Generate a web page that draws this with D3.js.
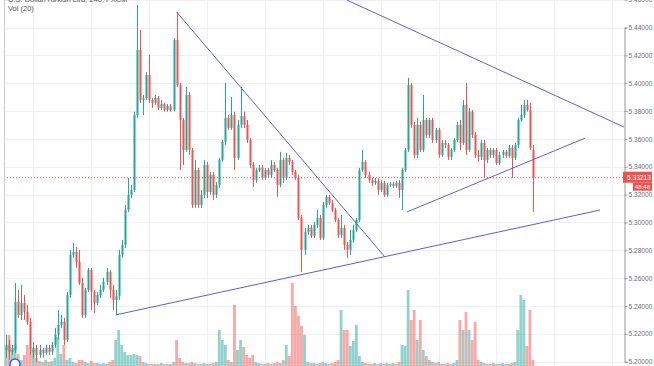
<!DOCTYPE html>
<html>
<head>
<meta charset="utf-8">
<script src="https://cdn.jsdelivr.net/npm/d3@7"></script>
<style>
  body { margin: 0; background: #fff; }
  svg { display: block; font-family: "Liberation Sans", Arial, sans-serif; }
</style>
</head>
<body>
<svg id="chart" width="654" height="366"></svg>
<script>
// candle data (price units)
let opens = [
  5.2085,5.2121,5.2071,5.2085,5.2430,5.2336,5.2422,5.2358,5.2286,5.2071,
  5.2099,5.2049,5.2085,5.2063,5.2099,5.2071,5.2121,5.2193,5.2265,5.2286,
  5.2157,5.2480,5.2767,5.2789,5.2717,5.2566,5.2336,5.2516,5.2659,5.2501,
  5.2422,5.2480,5.2516,5.2573,5.2645,5.2516,5.2444,5.2473,5.2767,5.2839,
  5.3090,5.3198,5.3234,5.3772,5.4239,5.3880,5.3894,5.4060,5.3880,5.3859,
  5.3894,5.3823,5.3851,5.3808,5.3837,5.3808,5.4311,5.3988,5.3736,5.3521,
  5.3916,5.3521,5.3126,5.3377,5.3126,5.3198,5.3413,5.3219,5.3342,5.3198,
  5.3270,5.3449,5.3578,5.3751,5.3679,5.3772,5.3464,5.3701,5.3765,5.3701,
  5.3593,5.3413,5.3306,5.3377,5.3392,5.3320,5.3377,5.3342,5.3413,5.3377,
  5.3270,5.3449,5.3320,5.3464,5.3435,5.3363,5.3320,5.3033,5.2803,5.2932,
  5.2961,5.2904,5.2983,5.3033,5.2889,5.3126,5.3184,5.3141,5.3090,5.3018,
  5.2911,5.2961,5.2839,5.2803,5.2875,5.2947,5.3018,5.3377,5.3435,5.3342,
  5.3306,5.3284,5.3298,5.3234,5.3284,5.3198,5.3270,5.3277,5.3263,5.3284,
  5.3234,5.3377,5.3521,5.3988,5.3701,5.3485,5.3701,5.3521,5.3736,5.3629,
  5.3736,5.3593,5.3665,5.3485,5.3571,5.3557,5.3471,5.3521,5.3593,5.3701,
  5.3571,5.3844,5.3521,5.3796,5.3629,5.3485,5.3471,5.3571,5.3449,5.3521,
  5.3485,5.3521,5.3428,5.3485,5.3507,5.3478,5.3535,5.3464,5.3557,5.3736,
  5.3772,5.3844,5.3808,5.3521
];
let closes = [
  5.2121,5.2071,5.2099,5.2430,5.2336,5.2422,5.2358,5.2286,5.2071,5.2099,
  5.2049,5.2085,5.2063,5.2099,5.2071,5.2121,5.2193,5.2265,5.2286,5.2157,
  5.2480,5.2767,5.2789,5.2717,5.2566,5.2336,5.2516,5.2659,5.2501,5.2422,
  5.2480,5.2516,5.2573,5.2645,5.2516,5.2444,5.2473,5.2767,5.2839,5.3090,
  5.3198,5.3234,5.3772,5.4239,5.3880,5.3894,5.4060,5.3880,5.3859,5.3894,
  5.3823,5.3851,5.3808,5.3837,5.3808,5.4311,5.3988,5.3736,5.3521,5.3916,
  5.3521,5.3126,5.3377,5.3126,5.3198,5.3413,5.3219,5.3342,5.3198,5.3270,
  5.3449,5.3578,5.3751,5.3679,5.3772,5.3464,5.3701,5.3765,5.3701,5.3593,
  5.3413,5.3306,5.3377,5.3392,5.3320,5.3377,5.3342,5.3413,5.3377,5.3270,
  5.3449,5.3320,5.3464,5.3435,5.3363,5.3320,5.3033,5.2803,5.2932,5.2961,
  5.2904,5.2983,5.3033,5.2889,5.3126,5.3184,5.3141,5.3090,5.3018,5.2911,
  5.2961,5.2839,5.2803,5.2875,5.2947,5.3018,5.3377,5.3435,5.3342,5.3306,
  5.3284,5.3298,5.3234,5.3284,5.3198,5.3270,5.3277,5.3263,5.3284,5.3234,
  5.3377,5.3521,5.3988,5.3701,5.3485,5.3701,5.3521,5.3736,5.3629,5.3736,
  5.3593,5.3665,5.3485,5.3571,5.3557,5.3471,5.3521,5.3593,5.3701,5.3571,
  5.3844,5.3521,5.3796,5.3629,5.3485,5.3471,5.3571,5.3449,5.3521,5.3485,
  5.3521,5.3428,5.3485,5.3507,5.3478,5.3535,5.3464,5.3557,5.3736,5.3772,
  5.3844,5.3808,5.3535,5.33213
];
let highs = [
  5.2193,5.2157,5.2121,5.2566,5.2516,5.2552,5.2480,5.2408,5.2315,5.2142,
  5.2121,5.2121,5.2099,5.2121,5.2121,5.2142,5.2243,5.2372,5.2336,5.2315,
  5.2501,5.2803,5.2853,5.2825,5.2803,5.2602,5.2530,5.2674,5.2674,5.2516,
  5.2501,5.2552,5.2602,5.2674,5.2659,5.2552,5.2516,5.2803,5.2875,5.3126,
  5.3320,5.3270,5.3796,5.4562,5.4383,5.3916,5.4081,5.4203,5.3894,5.3916,
  5.3909,5.3880,5.3859,5.3851,5.3851,5.4325,5.4512,5.4002,5.3751,5.3973,
  5.3937,5.3535,5.3449,5.3392,5.3234,5.3449,5.3435,5.3363,5.3363,5.3291,
  5.3464,5.3593,5.4002,5.3772,5.3902,5.3796,5.3736,5.3973,5.3796,5.3736,
  5.3607,5.3435,5.3392,5.3413,5.3413,5.3392,5.3392,5.3449,5.3435,5.3392,
  5.3507,5.3464,5.3500,5.3485,5.3449,5.3377,5.3342,5.3054,5.2961,5.2983,
  5.2983,5.3004,5.3090,5.3054,5.3148,5.3198,5.3198,5.3162,5.3105,5.3033,
  5.3054,5.2983,5.2860,5.2947,5.2983,5.3033,5.3392,5.3521,5.3449,5.3363,
  5.3320,5.3320,5.3320,5.3306,5.3298,5.3284,5.3291,5.3291,5.3298,5.3306,
  5.3392,5.3535,5.4038,5.4002,5.3722,5.3751,5.3722,5.3916,5.3751,5.3751,
  5.3751,5.3679,5.3679,5.3593,5.3593,5.3571,5.3535,5.3607,5.3722,5.3736,
  5.3880,5.4002,5.3823,5.3808,5.3650,5.3521,5.3593,5.3593,5.3535,5.3535,
  5.3535,5.3535,5.3507,5.3521,5.3521,5.3557,5.3557,5.3571,5.3751,5.3844,
  5.3880,5.3880,5.3859,5.3557
];
let lows = [
  5.2028,5.2013,5.2049,5.2063,5.2315,5.2300,5.2300,5.2265,5.2049,5.2028,
  5.1999,5.2028,5.2028,5.2049,5.2049,5.2049,5.2099,5.2157,5.2243,5.2121,
  5.2142,5.2458,5.2746,5.2674,5.2552,5.2315,5.2315,5.2501,5.2372,5.2351,
  5.2408,5.2458,5.2501,5.2552,5.2458,5.2372,5.2336,5.2444,5.2746,5.2817,
  5.3076,5.3176,5.3219,5.3751,5.3859,5.3772,5.3880,5.3859,5.3823,5.3844,
  5.3808,5.3808,5.3796,5.3796,5.3796,5.3796,5.3973,5.3377,5.3413,5.3507,
  5.3485,5.3105,5.3105,5.3105,5.3105,5.3176,5.3176,5.3198,5.3162,5.3176,
  5.3248,5.3435,5.3557,5.3665,5.3665,5.3377,5.3449,5.3679,5.3679,5.3571,
  5.3392,5.3255,5.3284,5.3363,5.3306,5.3306,5.3320,5.3320,5.3363,5.3184,
  5.3255,5.3284,5.3306,5.3413,5.3342,5.3306,5.3018,5.2645,5.2767,5.2911,
  5.2889,5.2889,5.2961,5.2875,5.2875,5.3105,5.3126,5.3076,5.3004,5.2889,
  5.2889,5.2803,5.2746,5.2767,5.2853,5.2932,5.3004,5.3363,5.3320,5.3284,
  5.3263,5.3270,5.3198,5.3219,5.3184,5.3184,5.3255,5.3248,5.3248,5.3176,
  5.3090,5.3363,5.3507,5.3679,5.3464,5.3464,5.3507,5.3507,5.3607,5.3607,
  5.3571,5.3571,5.3464,5.3471,5.3535,5.3449,5.3449,5.3507,5.3578,5.3521,
  5.3557,5.3485,5.3507,5.3607,5.3464,5.3435,5.3449,5.3320,5.3428,5.3464,
  5.3464,5.3413,5.3413,5.3464,5.3464,5.3464,5.3320,5.3449,5.3535,5.3722,
  5.3751,5.3796,5.3521,5.3076
];
let volumes = [
  18,31,16,21,12,6,11,21,14,16,
  8,5,4,6,4,5,8,29,12,21,
  6,8,4,3,6,6,4,3,5,3,
  3,2,3,2,4,6,26,36,21,14,
  11,11,12,11,10,4,3,2,2,2,
  2,3,2,2,2,4,26,8,4,3,
  3,4,3,2,2,3,2,2,3,4,
  36,26,21,6,4,61,16,26,19,11,
  8,11,4,3,2,2,3,2,3,4,
  3,6,21,10,83,60,50,40,31,4,
  3,3,2,3,4,3,2,3,4,6,
  56,36,36,20,25,41,10,4,3,2,
  2,3,2,3,2,3,2,3,2,4,
  21,20,76,46,56,26,46,16,10,6,
  4,3,4,2,2,3,2,3,6,46,
  36,54,36,26,44,6,4,3,2,2,
  3,2,2,3,2,2,3,4,36,71,
  66,20,56,6
];

// price axis ticks and current price
let priceTicks = [5.20, 5.22, 5.24, 5.26, 5.28, 5.30, 5.32, 5.34, 5.36, 5.38, 5.40, 5.42, 5.44, 5.46];
let lastPrice = 5.33213;
let countdown = "48:48";
let gridIdx = [9, 28, 47, 66, 85, 104, 123, 142, 161, 180, 199];

// trendlines as [startIndex, startPrice, endIndex, endPrice]
let trendlines = [
  [56, 5.4512, 124.4, 5.2752],
  [36, 5.2336, 195.0, 5.3089],
  [111.9, 5.4597, 202.9, 5.3685],
  [131.6, 5.3075, 190.1, 5.3606]
];

const width = 654, height = 366;
const plotLeft = 4, plotRight = 624;
const up = "#26a69a", down = "#ef5350";

let candles = closes.map((c, i) => ({
  i: i, o: opens[i], h: highs[i], l: lows[i], c: c, v: volumes[i]
}));

let svg = d3.select("#chart");

let x = d3.scaleLinear().domain([0, candles.length - 1]).range([6, 533]);
let y = d3.scaleLinear().domain([5.20, 5.44]).range([361.7, 27.5]);
let yVol = d3.scaleLinear().domain([0, 100]).range([366, 266]);

svg.append("defs").append("clipPath").attr("id", "plot")
  .append("rect").attr("x", plotLeft).attr("y", 0)
  .attr("width", plotRight - plotLeft).attr("height", height);

let plot = svg.append("g").attr("clip-path", "url(#plot)");

// grid
plot.append("g").selectAll("line").data(priceTicks).enter().append("line")
  .attr("x1", plotLeft).attr("x2", plotRight)
  .attr("y1", d => Math.round(y(d)) + 0.5).attr("y2", d => Math.round(y(d)) + 0.5)
  .attr("stroke", "#eef0f4").attr("stroke-width", 1);
plot.append("g").selectAll("line").data(gridIdx).enter().append("line")
  .attr("x1", d => Math.round(x(d)) + 0.5).attr("x2", d => Math.round(x(d)) + 0.5)
  .attr("y1", 0).attr("y2", height)
  .attr("stroke", "#eef0f4").attr("stroke-width", 1);

// volume
plot.append("g").selectAll("rect").data(candles).enter().append("rect")
  .attr("x", d => x(d.i) - 1.4)
  .attr("width", 2.8)
  .attr("y", d => yVol(d.v))
  .attr("height", d => yVol(0) - yVol(d.v))
  .attr("fill", d => d.c >= d.o ? up : down)
  .attr("fill-opacity", 0.5);

// current price line
plot.append("line")
  .attr("x1", plotLeft).attr("x2", plotRight)
  .attr("y1", y(lastPrice)).attr("y2", y(lastPrice))
  .attr("stroke", down).attr("stroke-width", 1)
  .attr("stroke-dasharray", "1,2");

// candles
let cg = plot.append("g").selectAll("g").data(candles).enter().append("g");
cg.append("line")
  .attr("x1", d => Math.round(x(d.i)) + 0.5).attr("x2", d => Math.round(x(d.i)) + 0.5)
  .attr("y1", d => y(d.h)).attr("y2", d => y(d.l))
  .attr("stroke", d => d.c >= d.o ? up : down).attr("stroke-width", 1);
cg.append("rect")
  .attr("x", d => Math.round(x(d.i)) - 0.5)
  .attr("width", 2)
  .attr("y", d => y(Math.max(d.o, d.c)))
  .attr("height", d => Math.max(1, Math.abs(y(d.o) - y(d.c))))
  .attr("fill", d => d.c >= d.o ? up : down);

// trendlines
plot.append("g").selectAll("line").data(trendlines).enter().append("line")
  .attr("x1", d => x(d[0])).attr("y1", d => y(d[1]))
  .attr("x2", d => x(d[2])).attr("y2", d => y(d[3]))
  .attr("stroke", "#5b5ee0").attr("stroke-width", 1);

// left border
svg.append("line").attr("x1", 4.5).attr("x2", 4.5).attr("y1", 0).attr("y2", height)
  .attr("stroke", "#c9cbd0");

// price axis
let yAxis = d3.axisRight(y)
  .tickValues(priceTicks)
  .tickSize(3)
  .tickFormat(d3.format(".5f"));
let ax = svg.append("g").attr("transform", "translate(" + (plotRight + 0.5) + ",0)").call(yAxis);
ax.select(".domain").attr("stroke", "#9598a1");
ax.selectAll(".tick line").attr("stroke", "#9598a1");
ax.selectAll(".tick text").attr("fill", "#6b6e78").attr("font-size", 6.6)
  .attr("x", 4).attr("font-family", "Liberation Sans, Arial, sans-serif");

// last price label
let ly = y(lastPrice);
svg.append("rect").attr("x", plotRight - 1).attr("y", ly - 6).attr("width", 29).attr("height", 11)
  .attr("fill", down);
svg.append("text").attr("x", plotRight + 3).attr("y", ly + 2.4)
  .attr("fill", "#fff").attr("font-size", 6.6).text(d3.format(".5f")(lastPrice));
svg.append("rect").attr("x", 633).attr("y", ly + 5).attr("width", 19).attr("height", 8)
  .attr("fill", down);
svg.append("text").attr("x", 642.5).attr("y", ly + 11.3).attr("text-anchor", "middle")
  .attr("fill", "#fff").attr("font-size", 6).text(countdown);

// titles
svg.append("text").attr("x", 8).attr("y", 1.5).attr("fill", "#555").attr("font-size", 7.5)
  .text("U.S. Dollar/Turkish Lira, 240, FXCM");
svg.append("text").attr("x", 8).attr("y", 11).attr("fill", "#555").attr("font-size", 7.5)
  .text("Vol (20)");

// logo stub bottom-left
svg.append("circle").attr("cx", 15).attr("cy", 364).attr("r", 5)
  .attr("fill", "#fff").attr("stroke", "#2962ff").attr("stroke-width", 1.5);
</script>
</body>
</html>
